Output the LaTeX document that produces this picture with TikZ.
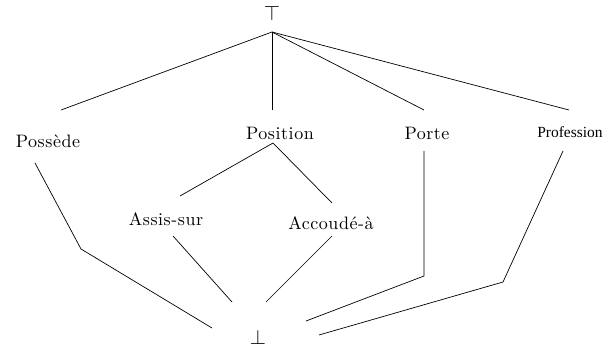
\documentclass[tikz,border=0pt]{standalone}
\usepackage{fontspec}
\setmainfont{lmroman10-regular}[Extension=.otf,LetterSpace=3]
\newfontfamily\profont{LiberationSerif-Regular}[Extension=.ttf]
\usepackage{tikz}

\begin{document}
\begin{tikzpicture}[x=1pt,y=-1pt,
  lbl/.style={inner sep=0pt,font=\fontsize{18}{20}\selectfont},
  bound/.style={inner sep=0pt,font=\fontsize{21}{24}\selectfont},
  edge/.style={line width=0.7pt}]
  \useasboundingbox (0,0) rectangle (603,350);
  % labels of the lattice
  \node[bound] (top) at (272,13) {$\top$};
  \node[lbl] (possede) at (48,141) {Possède};
  \node[lbl] (position) at (280,133) {Position};
  \node[lbl] (porte) at (427,133) {Porte};
  \node[inner sep=0pt,font=\profont\fontsize{15.5}{17}\selectfont] (profession) at (570,132) {Profession};
  \node[lbl] (assis) at (166,219) {Assis-sur};
  \node[lbl] (accoude) at (331,223) {Accoudé-à};
  \node[bound] (bot) at (258,337) {$\bot$};
  % line ends
  \coordinate (apex) at (272,32);
  \coordinate (possede-n) at (61,110);
  \coordinate (position-n) at (272,110);
  \coordinate (porte-n) at (424,110);
  \coordinate (profession-n) at (569,110);
  \coordinate (position-s) at (273,143);
  \coordinate (assis-n) at (180,196);
  \coordinate (accoude-n) at (332,203);
  \coordinate (assis-s) at (173,236);
  \coordinate (accoude-s) at (332,236);
  \coordinate (possede-s) at (35,163);
  \coordinate (porte-s) at (424,151);
  \coordinate (profession-s) at (563,151);
  \draw[edge] (apex) -- (possede-n);
  \draw[edge] (apex) -- (position-n);
  \draw[edge] (apex) -- (porte-n);
  \draw[edge] (apex) -- (profession-n);
  \draw[edge] (position-s) -- (assis-n);
  \draw[edge] (position-s) -- (accoude-n);
  \draw[edge] (assis-s) -- (232,302);
  \draw[edge] (accoude-s) -- (266,302);
  \draw[edge] (possede-s) -- (81,249) -- (212,328);
  \draw[edge] (porte-s) -- (424,276) -- (306,321);
  \draw[edge] (profession-s) -- (503,282) -- (319,335);
\end{tikzpicture}
\end{document}
